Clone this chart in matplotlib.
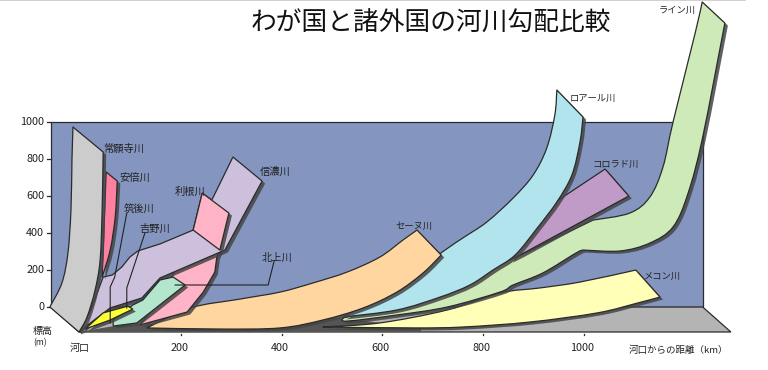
#river gradient comparison, drawn as a fake 3d chart.
#every outline is (km from mouth, elevation in m) on the front plane, the back wall is offset by DEPTH_*
import numpy as np
import matplotlib
matplotlib.use("Agg")
import matplotlib.pyplot as plt
import matplotlib.patheffects as pe
from matplotlib.path import Path
from matplotlib.patches import PathPatch, Polygon

plt.rcParams["font.family"] = ["Noto Sans CJK JP", "DejaVu Sans"]

TITLE = "わが国と諸外国の河川勾配比較"
X_TICKS = [200, 400, 600, 800, 1000]
Y_TICKS = [0, 200, 400, 600, 800, 1000]
DEPTH_KM = -56
DEPTH_M = 135
WALL_KM = 1296

#curved rivers: upper edge from the mouth, lower edge coming back
JOGANJI_UP_KM = [-58, -34, -22, -16, -14, -12]
JOGANJI_UP_M = [135, 265, 427, 659, 930, 1108]
JOGANJI_LO_KM = [48, 46, 42, 32, 16, 0]
JOGANJI_LO_M = [973, 659, 389, 227, 81, 0]

ABE_UP_KM = [46, 50, 54]
ABE_UP_M = [297, 578, 865]
ABE_LO_KM = [76, 72, 62, 46]
ABE_LO_M = [816, 622, 443, 297]

SEINE_UP_KM = [135, 221, 320, 400, 465, 533, 598, 644, 672]
SEINE_UP_M = [22, 130, 178, 216, 265, 324, 405, 497, 551]
SEINE_LO_KM = [720, 684, 632, 565, 485, 400, 280, 135]
SEINE_LO_M = [416, 319, 216, 130, 65, 22, 16, 22]

LOIRE_UP_KM = [525, 618, 722, 763, 811, 863, 903, 930, 946, 950]
LOIRE_UP_M = [81, 227, 432, 508, 595, 724, 849, 995, 1173, 1308]
LOIRE_LO_KM = [1002, 996, 980, 950, 911, 867, 823, 777, 718, 632, 525]
LOIRE_LO_M = [1162, 1027, 849, 703, 562, 416, 335, 254, 189, 119, 81]

#the rhine has a kink on both edges near 1000 km, so each edge comes in two parts
RHINE_UP1_KM = [525, 638, 718, 797, 877, 1022]
RHINE_UP1_M = [76, 146, 227, 335, 416, 605]
RHINE_UP2_KM = [1022, 1095, 1135, 1161, 1181, 1225, 1239]
RHINE_UP2_M = [605, 643, 730, 892, 1135, 1616, 1784]
RHINE_LO1_KM = [1284, 1240, 1211, 1181, 1135, 1076, 1002]
RHINE_LO1_M = [1670, 1054, 751, 568, 481, 438, 443]
RHINE_LO2_KM = [1002, 988, 922, 863, 837, 732, 632, 533, 525]
RHINE_LO2_M = [443, 427, 319, 254, 216, 135, 92, 59, 76]

MEKONG_UP_KM = [485, 598, 732, 837, 916, 996, 1107]
MEKONG_UP_M = [27, 49, 119, 211, 238, 270, 335]
MEKONG_LO_KM = [1155, 1111, 1030, 897, 763, 664, 485]
MEKONG_LO_M = [189, 157, 103, 54, 27, 22, 27]

#straight edged rivers, just a closed outline
SHINANO_KM = [2, 26, 48, 66, 85, 101, 117, 161, 227, 266, 306, 364, 290, 161, 125, 62, 12]
SHINANO_M = [0, 135, 297, 308, 351, 405, 438, 476, 551, 724, 946, 816, 443, 292, 184, 130, 27]
TONE_KM = [121, 161, 187, 227, 245, 298, 280, 274, 270, 247, 215]
TONE_M = [38, 173, 308, 551, 751, 643, 443, 405, 324, 216, 108]
TONE_TOP_KM = [227, 245, 298, 280]
TONE_TOP_M = [551, 751, 643, 443]
KITAKAMI_KM = [68, 68, 107, 127, 161, 187, 211, 115]
KITAKAMI_M = [32, 65, 146, 173, 281, 297, 254, 49]
YOSHINO_KM = [12, 48, 97, 107, 62]
YOSHINO_M = [16, 103, 140, 124, 65]
COLORADO_KM = [857, 897, 974, 1046, 1093, 877]
COLORADO_M = [389, 611, 751, 881, 735, 416]

SHADOW_KM = [0, 82, 519, 680, 680]
SHADOW_M = [0, 38, 76, 22, 0]

LEFT_NAMES = ["常願寺川", "安倍川", "筑後川", "吉野川", "利根川", "信濃川", "北上川"]
RIGHT_NAMES = ["セーヌ川", "ロアール川", "コロラド川", "メコン川", "ライン川"]

LINE = "#2b2b2b"
TEXT = "#222222"


def smooth_edge(km, m, first=False):
    #catmull-rom through the read points, returned as bezier path pieces
    p = np.column_stack([km, m]).astype(float)
    verts = [p[0]]
    codes = [Path.MOVETO if first else Path.LINETO]
    for i in range(len(p) - 1):
        before = p[max(i - 1, 0)]
        after = p[min(i + 2, len(p) - 1)]
        verts += [p[i] + (p[i + 1] - before) / 6, p[i + 1] - (after - p[i]) / 6, p[i + 1]]
        codes += [Path.CURVE4] * 3
    return verts, codes


def add_shadow(patch):
    patch.set_path_effects([
        pe.SimplePatchShadow(offset=(2.2, -1.8), shadow_rgbFace="#454545", alpha=0.85),
        pe.Normal(),
    ])


def curved_river(ax, edges, color, z):
    verts, codes = [], []
    for n, (km, m) in enumerate(edges):
        v, c = smooth_edge(km, m, first=(n == 0))
        verts += v
        codes += c
    verts.append(verts[0])
    codes.append(Path.CLOSEPOLY)
    patch = PathPatch(Path(verts, codes), facecolor=color, edgecolor=LINE, lw=0.9, zorder=z, joinstyle="round")
    add_shadow(patch)
    ax.add_patch(patch)


def flat_river(ax, km, m, color, z):
    patch = Polygon(np.column_stack([km, m]), closed=True, facecolor=color, edgecolor=LINE, lw=0.9, zorder=z)
    add_shadow(patch)
    ax.add_patch(patch)


fig = plt.figure(figsize=(7.68, 3.70), dpi=100)
ax = fig.add_axes([0, 0, 1, 1])
#79px is the mouth, 332px is the front floor line; 0.503 px per km, 0.185 px per m
ax.set_xlim(-79 / 0.503, (768 - 79) / 0.503)
ax.set_ylim(-(370 - 332) / 0.185, 332 / 0.185)
ax.axis("off")

#back wall and floor
wall_x = [DEPTH_KM, WALL_KM + DEPTH_KM, WALL_KM + DEPTH_KM, DEPTH_KM]
wall_y = [DEPTH_M, DEPTH_M, 1000 + DEPTH_M, 1000 + DEPTH_M]
ax.add_patch(Polygon(np.column_stack([wall_x, wall_y]), closed=True, facecolor="#8496c0", edgecolor=LINE, lw=0.9, zorder=1))
floor_x = [0, WALL_KM, WALL_KM + DEPTH_KM, DEPTH_KM]
floor_y = [0, 0, DEPTH_M, DEPTH_M]
ax.add_patch(Polygon(np.column_stack([floor_x, floor_y]), closed=True, facecolor="#b4b4b4", edgecolor=LINE, lw=0.9, zorder=2))
ax.add_patch(Polygon(np.column_stack([SHADOW_KM, SHADOW_M]), closed=True, facecolor="#555555", edgecolor="none", zorder=3))

#back to front, the order matters because the ribbons overlap
curved_river(ax, [(MEKONG_UP_KM, MEKONG_UP_M), (MEKONG_LO_KM, MEKONG_LO_M)], "#ffffb8", 3.5)
curved_river(ax, [(RHINE_UP1_KM, RHINE_UP1_M), (RHINE_UP2_KM, RHINE_UP2_M), (RHINE_LO1_KM, RHINE_LO1_M), (RHINE_LO2_KM, RHINE_LO2_M)], "#cdeab8", 4)
flat_river(ax, COLORADO_KM, COLORADO_M, "#c09bc8", 5)
curved_river(ax, [(LOIRE_UP_KM, LOIRE_UP_M), (LOIRE_LO_KM, LOIRE_LO_M)], "#b2e4ee", 6)
curved_river(ax, [(SEINE_UP_KM, SEINE_UP_M), (SEINE_LO_KM, SEINE_LO_M)], "#ffd6a0", 8)
flat_river(ax, TONE_KM, TONE_M, "#ffb3c6", 9)
flat_river(ax, SHINANO_KM, SHINANO_M, "#ccc0dc", 10)
flat_river(ax, TONE_TOP_KM, TONE_TOP_M, "#ffb3c6", 11)
flat_river(ax, KITAKAMI_KM, KITAKAMI_M, "#b3e6cc", 12)
flat_river(ax, YOSHINO_KM, YOSHINO_M, "#ffff33", 13)
curved_river(ax, [(ABE_UP_KM, ABE_UP_M), (ABE_LO_KM, ABE_LO_M)], "#ff80a0", 14)
curved_river(ax, [(JOGANJI_UP_KM, JOGANJI_UP_M), (JOGANJI_LO_KM, JOGANJI_LO_M)], "#cccccc", 15)

#leader lines from the labels down to the small rivers
ax.plot([95, 71, 62, 62], [643, 297, 243, 49], color=TEXT, lw=0.8, zorder=16)
ax.plot([131, 95, 95], [535, 238, 130], color=TEXT, lw=0.8, zorder=16)
ax.plot([388, 376, 191], [384, 254, 254], color=TEXT, lw=0.8, zorder=16)

left_pos = [(89, 992), (111, 832), (119, 659), (151, 557), (221, 757), (390, 865), (394, 400)]
right_pos = [(666, 568), (1022, 1265), (1066, 908), (1159, 298), (1189, 1740)]
for name, (km, m) in zip(LEFT_NAMES, left_pos):
    ax.text(km, m, name, fontsize=7.4, ha="center", va="center", color=TEXT, zorder=17)
for name, (km, m) in zip(RIGHT_NAMES, right_pos):
    ax.text(km, m, name, fontsize=6.7, ha="center", va="center", color=TEXT, zorder=17)

#axis ticks and labels
for v in Y_TICKS:
    ax.plot([DEPTH_KM - 7, DEPTH_KM], [v + DEPTH_M, v + DEPTH_M], color=LINE, lw=0.9, zorder=2)
    ax.text(DEPTH_KM - 13, v + DEPTH_M, str(v), fontsize=7.8, ha="right", va="center", color=TEXT)
for v in X_TICKS:
    ax.plot([v + 3, v + 3], [-9, -16], color=LINE, lw=0.9, zorder=2)
    ax.text(v, -88, str(v), fontsize=7.8, ha="center", va="center", color=TEXT)
ax.text(2, -88, "河口", fontsize=7.2, ha="center", va="center", color=TEXT)
ax.text(-73, 5, "標高", fontsize=7.2, ha="center", va="center", color=TEXT)
ax.text(-77, -60, "(m)", fontsize=6.2, ha="center", va="center", color=TEXT)
ax.text(1191, -97, "河口からの距離（km）", fontsize=6.8, ha="center", va="center", color=TEXT)

ax.text(700, 1665, TITLE, fontsize=18.5, ha="center", va="center", color="#111111")
ax.plot([-157, 1324], [1794, 1794], color="#c8c8c8", lw=1.2)

fig.savefig("out.png", dpi=100)
